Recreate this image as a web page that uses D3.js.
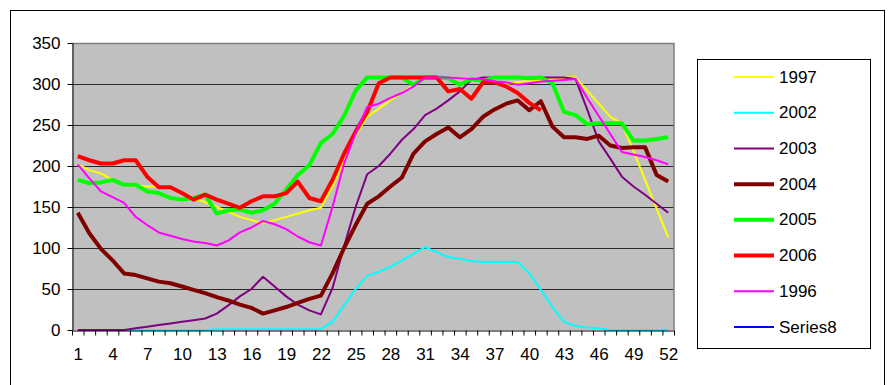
<!DOCTYPE html>
<html>
<head>
<meta charset="utf-8">
<script src="https://cdn.jsdelivr.net/npm/d3@7/dist/d3.min.js"></script>
<style>
  html, body { margin: 0; padding: 0; background: #fff; }
  svg { display: block; }
  text { font-family: "Liberation Sans", Arial, sans-serif; fill: #000; }
</style>
</head>
<body>
<svg id="chart" width="889" height="385"></svg>
<script>
// Weekly values per season (weeks 1..52); null = no reading
const weeks = d3.range(1, 53);
const yTicks = [0, 50, 100, 150, 200, 250, 300, 350];
const xLabelWeeks = [1, 4, 7, 10, 13, 16, 19, 22, 25, 28, 31, 34, 37, 40, 43, 46, 49, 52];

const v1997 = [202, 195, 191, 183, 178, 176, 175, 175, 173, 167, 160, 156, 150, 144, 138, 134, 130, 134, 138, 142,
  146, 149, 175, 207, 238, 260, 270, 280, 289, 299, 308, 308, 308, 307, 306, 306, 302, 300, 302, 304,
  305, 306, 308, 308, 292, 276, 260, 252, 218, 183, 148, 113];
const v2002 = [0, 0, 0, 0, 0, 0, 0, 0, 0, 0, 0, 0, 1, 1, 1, 1, 1, 1, 1, 1,
  1, 1, 10, 30, 50, 66, 71, 77, 85, 93, 101, 95, 89, 87, 84, 83, 83, 83, 83, 69,
  49, 28, 10, 5, 3, 2, 0, 0, 0, 0, 0, 0];
const v2003 = [0, 0, 0, 0, 0, 2, 4, 6, 8, 10, 12, 14, 20, 30, 41, 50, 65, 53, 41, 31,
  24, 19, 51, 102, 150, 190, 200, 215, 232, 245, 262, 270, 280, 291, 305, 308, 308, 308, 308, 308,
  308, 308, 308, 306, 269, 230, 209, 187, 175, 165, 154, 143];
const v2004 = [143, 118, 99, 85, 69, 67, 63, 59, 57, 53, 49, 45, 40, 36, 31, 27, 20, 24, 28, 33,
  38, 42, 69, 100, 128, 154, 163, 175, 186, 215, 230, 239, 247, 235, 245, 260, 269, 276, 280, 268,
  279, 248, 235, 235, 233, 237, 225, 222, 223, 223, 189, 181];
const v2005 = [183, 179, 180, 183, 177, 177, 169, 167, 161, 159, 161, 165, 142, 146, 147, 143, 146, 154, 171, 189,
  201, 228, 239, 261, 292, 308, 308, 308, 308, 299, 308, 308, 307, 299, 306, 304, 308, 308, 308, 307,
  308, 301, 266, 262, 251, 252, 252, 252, 231, 231, 233, 235];
const v2006 = [212, 207, 203, 203, 207, 207, 187, 174, 174, 167, 159, 165, 159, 154, 149, 157, 163, 163, 167, 181,
  161, 157, 183, 215, 242, 266, 301, 308, 308, 308, 308, 308, 291, 294, 282, 302, 302, 297, 289, 277,
  268, null, null, null, null, null, null, null, null, null, null, null];
const v1996 = [202, 185, 169, 162, 155, 138, 128, 119, 115, 111, 108, 106, 103, 109, 119, 125, 133, 129, 123, 114,
  107, 103, 150, 203, 240, 272, 276, 283, 289, 297, 308, 308, 308, 307, 306, 306, 303, 302, 299, 301,
  303, 304, 305, 306, 283, 261, 239, 217, 214, 211, 207, 202];
const vSeries8 = [];

const series = [
  { name: "1997", values: v1997, color: "#FFFF00", width: 2 },
  { name: "2002", values: v2002, color: "#00FFFF", width: 2 },
  { name: "2003", values: v2003, color: "#800080", width: 2 },
  { name: "2004", values: v2004, color: "#800000", width: 4 },
  { name: "2005", values: v2005, color: "#00FF00", width: 4 },
  { name: "2006", values: v2006, color: "#FF0000", width: 4 },
  { name: "1996", values: v1996, color: "#FF00FF", width: 2 },
  { name: "Series8", values: vSeries8, color: "#0000FF", width: 2 }
];

const svg = d3.select("#chart");
const plot = { left: 72, right: 674, top: 43, bottom: 330 };

// outer chart frame
svg.append("rect")
  .attr("x", 10.5).attr("y", 10.5)
  .attr("width", 874).attr("height", 385)
  .attr("fill", "#fff").attr("stroke", "#000").attr("stroke-width", 1);

const x = d3.scaleLinear().domain([0.5, 52.5]).range([plot.left, plot.right]);
const y = d3.scaleLinear().domain([0, 350]).range([plot.bottom, plot.top]);

// plot area background
svg.append("rect")
  .attr("x", plot.left).attr("y", plot.top)
  .attr("width", plot.right - plot.left).attr("height", plot.bottom - plot.top)
  .attr("fill", "#C0C0C0");

// horizontal gridlines
svg.append("g").selectAll("line")
  .data(yTicks.filter(t => t > 0 && t < 350))
  .join("line")
  .attr("x1", plot.left).attr("x2", plot.right)
  .attr("y1", d => Math.round(y(d)) + 0.5).attr("y2", d => Math.round(y(d)) + 0.5)
  .attr("stroke", "#2a2a2a").attr("stroke-width", 1);

// plot area top and right border
svg.append("path")
  .attr("d", `M${plot.left},${plot.top + 0.5}H${plot.right}V${plot.bottom}`)
  .attr("fill", "none").attr("stroke", "#808080").attr("stroke-width", 1.5);

// series lines
const line = d3.line()
  .defined(d => d.v != null)
  .x(d => x(d.w))
  .y(d => y(d.v));

svg.append("g").selectAll("path")
  .data(series.filter(s => s.values.length))
  .join("path")
  .attr("d", s => line(s.values.map((v, i) => ({ w: weeks[i], v }))))
  .attr("fill", "none")
  .attr("stroke", s => s.color)
  .attr("stroke-width", s => s.width)
  .attr("stroke-linejoin", "round")
  .attr("stroke-linecap", "butt");

// y axis
const yAxis = svg.append("g")
  .attr("transform", `translate(${plot.left + 0.5},0)`)
  .call(d3.axisLeft(y).tickValues(yTicks).tickSize(5).tickPadding(7).tickSizeOuter(0));
yAxis.select(".domain").attr("stroke", "#000");
yAxis.selectAll(".tick line").attr("stroke", "#000");
yAxis.selectAll("text").style("font-size", "17px").attr("fill", "#000");

// x axis: tick marks between weeks
const xTickAxis = svg.append("g")
  .attr("transform", `translate(0,${plot.bottom + 0.5})`)
  .call(d3.axisBottom(x).tickValues(d3.range(0.5, 53, 1)).tickSize(5).tickFormat("").tickSizeOuter(0));
xTickAxis.select(".domain").attr("stroke", "#000");
xTickAxis.selectAll(".tick line").attr("stroke", "#000");

// x axis: week labels
const xLabelAxis = svg.append("g")
  .attr("transform", `translate(0,${plot.bottom})`)
  .call(d3.axisBottom(x).tickValues(xLabelWeeks).tickSize(0).tickPadding(18).tickFormat(d3.format("d")));
xLabelAxis.select(".domain").remove();
xLabelAxis.selectAll("text").style("font-size", "17px").attr("fill", "#000");

// legend
const legend = svg.append("g");
legend.append("rect")
  .attr("x", 697.5).attr("y", 59.5)
  .attr("width", 173).attr("height", 289)
  .attr("fill", "#fff").attr("stroke", "#000").attr("stroke-width", 1);

const legendY = d3.scaleLinear().domain([0, 7]).range([77, 327]);
const items = legend.selectAll("g.item")
  .data(series)
  .join("g")
  .attr("class", "item")
  .attr("transform", (d, i) => `translate(0,${legendY(i)})`);
items.append("line")
  .attr("x1", 734).attr("x2", 774)
  .attr("y1", 0).attr("y2", 0)
  .attr("stroke", d => d.color)
  .attr("stroke-width", d => d.width);
items.append("text")
  .attr("x", 779).attr("y", 0).attr("dy", "0.33em")
  .style("font-size", "17px")
  .text(d => d.name);
</script>
</body>
</html>
